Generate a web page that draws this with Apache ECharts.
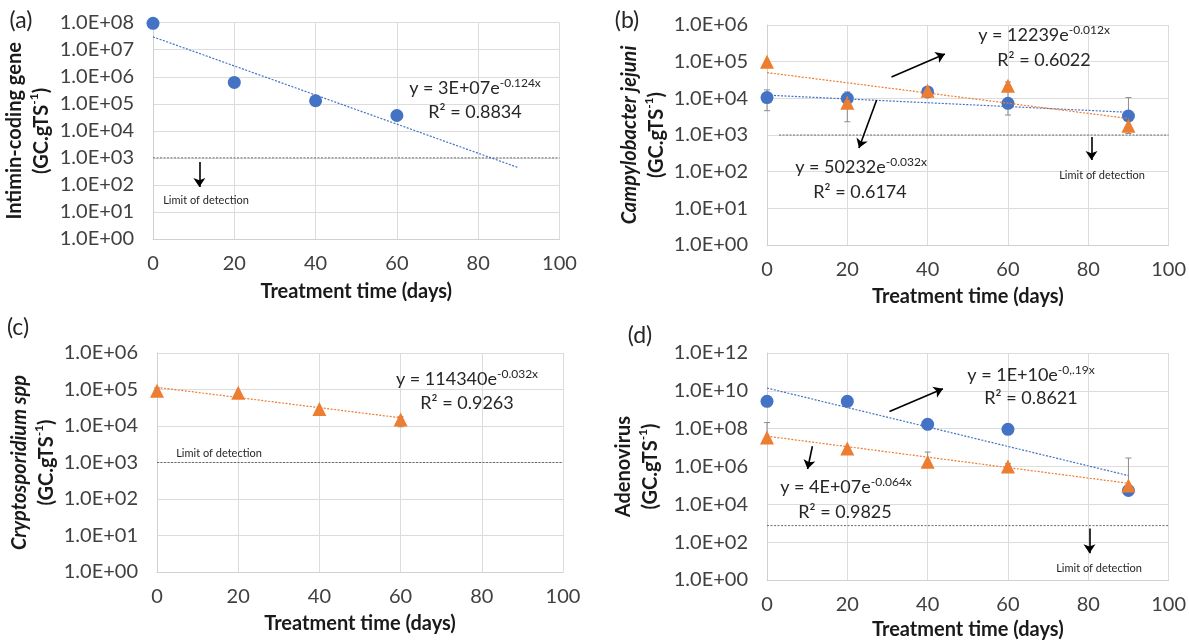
<!DOCTYPE html>
<html>
<head>
<meta charset="utf-8">
<script src="https://cdn.jsdelivr.net/npm/echarts@6/dist/echarts.min.js"></script>
<style>
  html, body { margin: 0; padding: 0; background: #fff; }
  #main { width: 1189px; height: 641px; }
</style>
</head>
<body>
<div id="main"></div>
<script>
// x values (treatment time, days)
const daysA = [0, 20, 40, 60];
const daysB = [0, 20, 40, 60, 90];
const daysC = [0, 20, 40, 60];
const daysD = [0, 20, 40, 60, 90];

// (a) intimin-coding gene
const intiminBlue = [9.5e7, 6.2e5, 1.3e5, 3.7e4];
// (b) Campylobacter jejuni
const campyBlue = [1.05e4, 1.0e4, 1.5e4, 7.3e3, 3.3e3];
const campyOrange = [1.0e5, 7.6e3, 1.6e4, 2.2e4, 1.8e3];
// (c) Cryptosporidium spp
const cryptoOrange = [9.3e4, 8.2e4, 2.9e4, 1.5e4];
// (d) Adenovirus
const adenoBlue = [2.8e9, 2.8e9, 1.7e8, 9.2e7, 5.4e4];
const adenoOrange = [3.4e7, 8.9e6, 1.8e6, 1.0e6, 9.8e4];

// trend line end points (exponential fits, straight on log axis)
const trendX = [0, 90];
const trendA = [3e7, 430];
const trendBBlue = [12239, 4160];
const trendBOrange = [50232, 2820];
const trendCX = [0, 60];
const trendC = [114340, 16760];
const trendDBlue = [1.4e10, 3.3e5];
const trendDOrange = [4e7, 1.3e5];

// error bars: x, low, high
const errBX = [0, 20, 60, 90];
const errBLow = [4.6e3, 2.3e3, 3.5e3, 1.1e3];
const errBHigh = [1.7e4, 1.5e4, 2.8e4, 1.05e4];
const errCX = [0, 60];
const errCLow = [8.5e4, 9.5e3];
const errCHigh = [1.1e5, 1.8e4];
const errDX = [0, 40, 60, 90];
const errDLow = [3.4e7, 1.2e6, 8e5, 1e5];
const errDHigh = [2.1e8, 5.8e6, 1.4e6, 2.8e6];

// limit of detection
const lodA = 1000, lodB = 1000, lodC = 1000, lodD = 750;

const BLUE = '#4472C4';
const ORANGE = '#ED7D31';
const FONT = 'Lato';

const pts = (xs, ys) => xs.map((x, i) => [x, ys[i]]);
const bars = (xs, lo, hi) => xs.map((x, i) => [x, lo[i], hi[i]]);

function sciLabel(v) {
  const e = Math.round(Math.log10(v));
  return '1.0E+' + (e < 10 ? '0' : '') + e;
}

function errorBar(params, api) {
  const x = api.value(0);
  const lo = api.coord([x, api.value(1)]);
  const hi = api.coord([x, api.value(2)]);
  const w = 3;
  const style = { stroke: '#8c8c8c', lineWidth: 1 };
  return {
    type: 'group',
    children: [
      { type: 'line', shape: { x1: lo[0], y1: lo[1], x2: hi[0], y2: hi[1] }, style },
      { type: 'line', shape: { x1: hi[0] - w, y1: hi[1], x2: hi[0] + w, y2: hi[1] }, style },
      { type: 'line', shape: { x1: lo[0] - w, y1: lo[1], x2: lo[0] + w, y2: lo[1] }, style }
    ]
  };
}

const grids = [
  { left: 152.5, top: 22.7, width: 407, height: 216.3 },
  { left: 767, top: 25, width: 406, height: 220 },
  { left: 157, top: 353, width: 406, height: 219 },
  { left: 767, top: 353, width: 406, height: 229 }
];

const titleRich = {
  i: { fontFamily: FONT, fontSize: 20, fontWeight: 'bold', fontStyle: 'italic', color: '#1a1a1a', lineHeight: 27 },
  s: { fontFamily: FONT, fontSize: 12, fontWeight: 'bold', color: '#1a1a1a', verticalAlign: 'top', lineHeight: 27, padding: [0, 0, 8, 0] }
};

function xAxisFor(i, gap) {
  return {
    gridIndex: i, type: 'value', min: 0, max: 100, interval: 20,
    name: 'Treatment time (days)', nameLocation: 'middle', nameGap: gap,
    nameTextStyle: { fontFamily: FONT, fontSize: 20, fontWeight: 'bold', color: '#1a1a1a' },
    axisLine: { show: true, lineStyle: { color: '#d0d0d0' } },
    axisTick: { show: false },
    splitLine: { show: true, lineStyle: { color: '#dcdcdc' } },
    axisLabel: { margin: 15, fontFamily: FONT, fontSize: 20, color: '#404040' }
  };
}

function yAxisFor(i, max, step, name, gap) {
  return {
    gridIndex: i, type: 'log', logBase: 10, min: 1, max: max, interval: step,
    name: name, nameLocation: 'middle', nameRotate: 90, nameGap: gap,
    nameTextStyle: { fontFamily: FONT, fontSize: 20, fontWeight: 'bold', color: '#1a1a1a', lineHeight: 27, rich: titleRich },
    axisLine: { show: true, lineStyle: { color: '#d0d0d0' } },
    axisTick: { show: false },
    splitLine: { show: true, lineStyle: { color: '#dcdcdc' } },
    axisLabel: { margin: 19, fontFamily: FONT, fontSize: 20, color: '#404040', formatter: sciLabel }
  };
}

function scatter(i, data, color, shape) {
  return {
    type: 'scatter', xAxisIndex: i, yAxisIndex: i, data: data, clip: false, z: 3,
    symbol: shape, symbolSize: shape === 'triangle' ? 14 : 13,
    itemStyle: { color: color, opacity: 1 }
  };
}

function trend(i, data, color) {
  return {
    type: 'line', xAxisIndex: i, yAxisIndex: i, data: data, symbol: 'none', z: 4,
    lineStyle: { color: color, width: 1.2, type: [2, 1.5] }
  };
}

function arrowLines(list) {
  return {
    silent: true, symbol: ['none', 'arrow'], symbolSize: 9,
    label: { show: false },
    lineStyle: { color: '#000', width: 1.6, type: 'solid' },
    data: list.map(a => [{ coord: a[0] }, { coord: a[1] }])
  };
}

function lod(i, x0, y, arrows) {
  const s = {
    type: 'line', xAxisIndex: i, yAxisIndex: i, data: [[x0, y], [100, y]], symbol: 'none', z: 2,
    lineStyle: { color: '#6a6a6a', width: 1, type: [2, 1.5] }
  };
  if (arrows) s.markLine = arrowLines(arrows);
  return s;
}

function errors(i, data) {
  return {
    type: 'custom', xAxisIndex: i, yAxisIndex: i, data: data, z: 2,
    encode: { x: 0, y: [1, 2] }, renderItem: errorBar
  };
}

const eqRich = {
  s: { fontFamily: FONT, fontSize: 12, color: '#262626', verticalAlign: 'top', lineHeight: 22, padding: [0, 0, 7, 0] },
  b: { fontFamily: FONT, fontSize: 18, color: '#262626', lineHeight: 22 }
};

function txt(x, y, text, size, extra) {
  return {
    type: 'text', x: x, y: y, z: 10,
    style: Object.assign({
      text: text, fontFamily: FONT, fontSize: size, fill: '#262626',
      align: 'center', verticalAlign: 'middle', rich: eqRich
    }, extra || {})
  };
}

const graphic = [
  txt(21, 21, '(a)', 23),
  txt(627, 21, '(b)', 23),
  txt(18, 328, '(c)', 23),
  txt(640, 336, '(d)', 23),
  txt(475, 88, '{b|y = 3E+07e}{s|-0.124x}', 18),
  txt(475, 112, 'R² = 0.8834', 18),
  txt(206, 200, 'Limit of detection', 11),
  txt(1044, 35, '{b|y = 12239e}{s|-0.012x}', 18),
  txt(1044, 60, 'R² = 0.6022', 18),
  txt(861, 167, '{b|y = 50232e}{s|-0.032x}', 18),
  txt(860, 192, 'R² = 0.6174', 18),
  txt(1102, 175, 'Limit of detection', 11),
  txt(467, 379, '{b|y = 114340e}{s|-0.032x}', 18),
  txt(467, 403, 'R² = 0.9263', 18),
  txt(219, 453, 'Limit of detection', 11),
  txt(1031, 375, '{b|y = 1E+10e}{s|-0,.19x}', 18),
  txt(1031, 398, 'R² = 0.8621', 18),
  txt(846, 487, '{b|y = 4E+07e}{s|-0.064x}', 18),
  txt(845, 512, 'R² = 0.9825', 18),
  txt(1099, 568, 'Limit of detection', 11)
];

const chart = echarts.init(document.getElementById('main'), null, { renderer: 'canvas' });
chart.setOption({
  animation: false,
  backgroundColor: '#fff',
  grid: grids,
  xAxis: [xAxisFor(0, 43), xAxisFor(1, 42), xAxisFor(2, 42), xAxisFor(3, 40)],
  yAxis: [
    yAxisFor(0, 1e8, 1, 'Intimin-coding gene\n(GC.gTS{s|-1})', 98),
    yAxisFor(1, 1e6, 1, '{i|Campylobacter jejuni}\n(GC.gTS{s|-1})', 90),
    yAxisFor(2, 1e6, 1, '{i|Cryptosporidium spp}\n(GC.gTS{s|-1})', 96),
    yAxisFor(3, 1e12, 2, 'Adenovirus\n(GC.gTS{s|-1})', 103)
  ],
  graphic: graphic,
  series: [
    // (a)
    lod(0, 0, lodA, [[[11.4, 710], [11.4, 83]]]),
    scatter(0, pts(daysA, intiminBlue), BLUE, 'circle'),
    trend(0, pts(trendX, trendA), BLUE),
    // (b)
    lod(1, 3, lodB, [
      [[31.0, 3.8e4], [44.3, 1.62e5]],
      [[27.3, 9.0e3], [22.9, 443]],
      [[80.8, 883], [80.8, 209]]
    ]),
    errors(1, bars(errBX, errBLow, errBHigh)),
    scatter(1, pts(daysB, campyBlue), BLUE, 'circle'),
    scatter(1, pts(daysB, campyOrange), ORANGE, 'triangle'),
    trend(1, pts(trendX, trendBBlue), BLUE),
    trend(1, pts(trendX, trendBOrange), ORANGE),
    // (c)
    lod(2, 0, lodC, null),
    errors(2, bars(errCX, errCLow, errCHigh)),
    scatter(2, pts(daysC, cryptoOrange), ORANGE, 'triangle'),
    trend(2, pts(trendCX, trendC), ORANGE),
    // (d)
    lod(3, 0, lodD, [
      [[30.5, 8.1e8], [43.8, 1.3e10]],
      [[11.3, 1.18e7], [10.1, 7.4e5]],
      [[80.3, 525], [80.3, 26]]
    ]),
    errors(3, bars(errDX, errDLow, errDHigh)),
    scatter(3, pts(daysD, adenoBlue), BLUE, 'circle'),
    scatter(3, pts(daysD, adenoOrange), ORANGE, 'triangle'),
    trend(3, pts(trendX, trendDBlue), BLUE),
    trend(3, pts(trendX, trendDOrange), ORANGE)
  ]
});
</script>
</body>
</html>
